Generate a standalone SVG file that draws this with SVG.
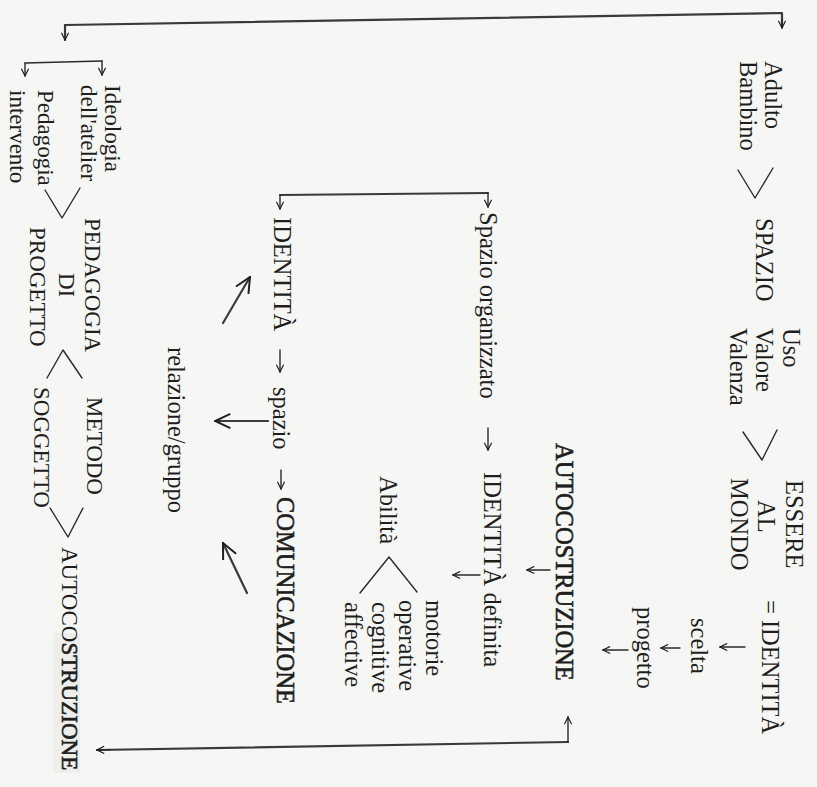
<svg xmlns="http://www.w3.org/2000/svg" width="817" height="787" viewBox="0 0 817 787">
<style>
.t{font-family:"Liberation Serif","Times New Roman",serif;font-size:24.5px;fill:#1e1e1e}
.s{font-size:23px}
.b{stroke:#1e1e1e;stroke-width:0.6px}
.ln{fill:none;stroke:#2a2a2a;stroke-width:1.4px;stroke-linecap:round;stroke-linejoin:round}
.th{stroke:#3a3a3a;stroke-width:2.2px}
.ar{marker-end:url(#ah)}
.arL{marker-end:url(#ahL)}
</style>
<defs>
<marker id="ah" viewBox="0 0 10 10" refX="9" refY="5" markerWidth="9" markerHeight="9" markerUnits="userSpaceOnUse" orient="auto">
<path d="M1,1 L9,5 L1,9" fill="none" stroke="#1e1e1e" stroke-width="1.3"/>
</marker>
<marker id="ahL" viewBox="0 0 20 20" refX="19" refY="10" markerWidth="18" markerHeight="18" markerUnits="userSpaceOnUse" orient="auto">
<path d="M2,2 L19,10 L2,18" fill="none" stroke="#1e1e1e" stroke-width="2.2"/>
</marker>
</defs>
<rect width="817" height="787" fill="#f6f6f4"/>

<g id="connectors">
<path class="ln th" d="M65,25 L782,13 L782,27"/>
<path class="ln ar" d="M782,20 L782,28"/>
<path class="ln th ar" d="M65,25 L65,40"/>
<path class="ln" d="M25,63 L102,61"/>
<path class="ln ar" d="M25,63 L25,76"/>
<path class="ln ar" d="M102,61 L102,75"/>
<path class="ln th" d="M280,195 L488,193"/>
<path class="ln ar" d="M280,195 L280,209"/>
<path class="ln ar" d="M488,193 L488,207"/>
<path class="ln th" d="M568,742 L97,750"/>
<path class="ln ar" d="M110,749.8 L97,750"/>
<path class="ln ar" d="M568,742 L568,717"/>
<path class="ln ar" d="M745,647 L720,647"/>
<path class="ln ar" d="M680,648 L661,648"/>
<path class="ln ar" d="M628,650 L603,650"/>
<path class="ln ar" d="M550,570 L527,570"/>
<path class="ln ar" d="M480,575 L453,575"/>
<path class="ln ar" d="M488,428 L488,450"/>
<path class="ln ar" d="M280,350 L280,372"/>
<path class="ln ar" d="M281,470 L281,489"/>
<path class="ln th arL" d="M223,323 L250,277"/>
<path class="ln th arL" d="M268,421 L215,421"/>
<path class="ln th arL" d="M247,593 L223,543"/>
</g>

<g id="n-adulto-bambino">
<text class="t" transform="translate(765,61) rotate(90)">Adulto</text>
<text class="t" transform="translate(740,61) rotate(90)">Bambino</text>
<path class="ln" d="M738,170 L755,198 L773,168"/>
</g>
<g id="n-spazio">
<text class="t" transform="translate(756,218) rotate(90)">SPAZIO</text>
</g>
<g id="n-uso">
<text class="t" transform="translate(783,328) rotate(90)">Uso</text>
<text class="t" transform="translate(756,328) rotate(90)">Valore</text>
<text class="t" transform="translate(730,328) rotate(90)">Valenza</text>
<path class="ln" d="M743,432 L762,460 L777,430"/>
</g>
<g id="n-essere">
<text class="t" transform="translate(786,480) rotate(90)">ESSERE</text>
<text class="t" transform="translate(758,500) rotate(90)">AL</text>
<text class="t" transform="translate(731,478) rotate(90)">MONDO</text>
</g>
<g id="n-identita1">
<text class="t" transform="translate(762,600) rotate(90)">= IDENTITÀ</text>
</g>
<g id="n-scelta">
<text class="t" transform="translate(691,618) rotate(90)">scelta</text>
</g>
<g id="n-progetto">
<text class="t" transform="translate(637,607) rotate(90)">progetto</text>
</g>
<g id="n-autocostruzione1">
<text class="t b" transform="translate(556,443) rotate(90)">AUTOCOSTRUZIONE</text>
</g>
<g id="n-spazio-organizzato">
<text class="t" transform="translate(480,212) rotate(90)">Spazio organizzato</text>
</g>
<g id="n-identita-definita">
<text class="t" transform="translate(484,472) rotate(90)">IDENTITÀ definita</text>
</g>
<g id="n-abilita">
<text class="t" transform="translate(380,476) rotate(90)">Abilità</text>
<path class="ln" d="M417,592 L389,557 L360,593"/>
<text class="t" transform="translate(426,600) rotate(90)">motorie</text>
<text class="t" transform="translate(399,600) rotate(90)">operative</text>
<text class="t" transform="translate(372,602) rotate(90)">cognitive</text>
<text class="t" transform="translate(345,602) rotate(90)">affective</text>
</g>
<g id="n-identita2">
<text class="t" transform="translate(274,217) rotate(90)">IDENTITÀ</text>
</g>
<g id="n-spazio2">
<text class="t" transform="translate(273,387) rotate(90)">spazio</text>
</g>
<g id="n-comunicazione">
<text class="t b" transform="translate(277,497) rotate(90)">COMUNICAZIONE</text>
</g>
<g id="n-relazione">
<text class="t" transform="translate(168,347) rotate(90)">relazione/gruppo</text>
</g>
<g id="n-ideologia">
<text class="t s" transform="translate(105,85) rotate(90)">Ideologia</text>
<text class="t s" transform="translate(81,85) rotate(90)">dell'atelier</text>
<text class="t s" transform="translate(38,90) rotate(90)">Pedagogia</text>
<text class="t s" transform="translate(10,90) rotate(90)">intervento</text>
<path class="ln" d="M80,188 L62,218 L45,190"/>
</g>
<g id="n-pedagogia-di-progetto">
<text class="t s" transform="translate(85,218) rotate(90)">PEDAGOGIA</text>
<text class="t s" transform="translate(59,273) rotate(90)">DI</text>
<text class="t s" transform="translate(30,227) rotate(90)">PROGETTO</text>
<path class="ln" d="M82,378 L63,350 L47,378"/>
</g>
<g id="n-metodo-soggetto">
<text class="t s" transform="translate(87,397) rotate(90)">METODO</text>
<text class="t s" transform="translate(34,387) rotate(90)">SOGGETTO</text>
<path class="ln" d="M83,508 L68,537 L50,508"/>
</g>
<g id="n-autocostruzione2">
<rect x="53" y="633" width="27" height="140" fill="#eeeeec"/>
<text class="t" style="font-size:23px" transform="translate(62,547) rotate(90)">AUTOCO<tspan class="b">STRUZIONE</tspan></text>
</g>
</svg>
